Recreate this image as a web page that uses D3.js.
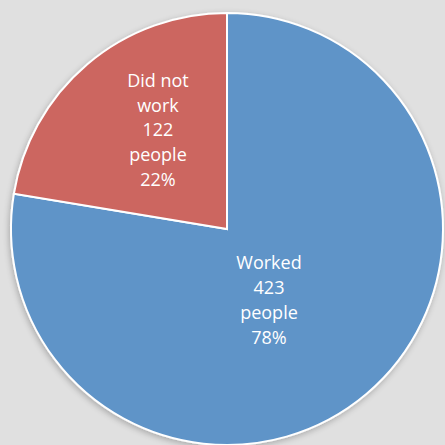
<!DOCTYPE html>
<html><head><meta charset="utf-8">
<script src="https://cdn.jsdelivr.net/npm/d3@7"></script>
<style>html,body{margin:0;padding:0;background:#e0e0e0;}svg{display:block;}</style>
</head><body>
<svg id="chart" width="445" height="445"></svg>
<script>
const categories = ["Worked", "Did not work"];
const labelLines = [["Worked", "423", "people", "78%"], ["Did not", "work", "122", "people", "22%"]];
const values = [423, 122];
const colors = ["#5f94c8", "#cc6661"];

const svg = d3.select("#chart");
const W = 445, H = 445;
svg.append("rect").attr("width", W).attr("height", H).attr("fill", "#e0e0e0");

const cx = 227, cy = 229, R = 216;
const defs = svg.append("defs");
const f = defs.append("filter").attr("id", "sh").attr("x", "-10%").attr("y", "-10%").attr("width", "120%").attr("height", "120%");
f.append("feGaussianBlur").attr("in", "SourceAlpha").attr("stdDeviation", 3);
f.append("feOffset").attr("dx", -1).attr("dy", 2).attr("result", "ob");
f.append("feComponentTransfer").append("feFuncA").attr("type", "linear").attr("slope", 0.25);
const m = f.append("feMerge");
m.append("feMergeNode");
m.append("feMergeNode").attr("in", "SourceGraphic");

const pie = d3.pie().sort(null).value(d => d)(values);
const arc = d3.arc().innerRadius(0).outerRadius(R);
const g = svg.append("g").attr("transform", `translate(${cx},${cy})`);
const slices = g.append("g").attr("filter", "url(#sh)");
slices.selectAll("path").data(pie).join("path")
  .attr("d", arc)
  .attr("fill", (d, i) => colors[i])
  .attr("stroke", "#ffffff")
  .attr("stroke-width", 2)
  .attr("stroke-linejoin", "miter");

// label placement relative to slice mid-angle
const labelCfg = [{da: 9.7, rf: 0.382}, {da: 5.4, rf: 0.559}];
const lineH = 24.8;
pie.forEach((d, i) => {
  const mid = (d.startAngle + d.endAngle) / 2 + labelCfg[i].da * Math.PI / 180;
  const [x, y] = d3.pointRadial(mid, R * labelCfg[i].rf);
  const lines = labelLines[i];
  const t = g.append("text")
    .attr("x", x).attr("y", y)
    .attr("text-anchor", "middle")
    .attr("fill", "#ffffff")
    .attr("font-family", "'Open Sans', sans-serif")
    .attr("font-size", 18);
  lines.forEach((ln, j) => {
    t.append("tspan").attr("x", x)
      .attr("y", y + (j - (lines.length - 1) / 2) * lineH + 6.5)
      .text(ln);
  });
});
</script>
</body></html>
